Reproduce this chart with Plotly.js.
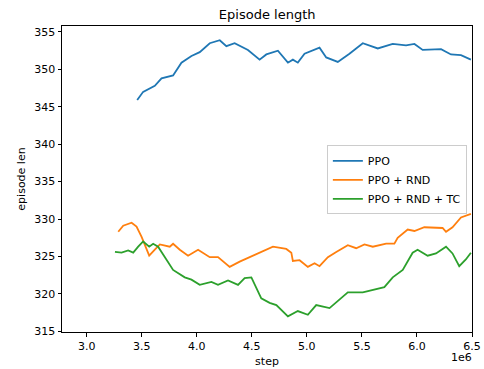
<!DOCTYPE html>
<html><head><meta charset="utf-8">
<script src="https://cdn.plot.ly/plotly-3.0.1.min.js"></script>
<style>html,body{margin:0;padding:0;background:#fff}</style>
</head><body>
<div id="chart" style="width:484px;height:369px"></div>
<script>
// step values in units of 1e6
const ppoStep = [3.459,3.513,3.619,3.680,3.785,3.861,3.952,4.027,4.118,4.209,4.269,4.344,4.465,4.571,4.632,4.737,4.828,4.873,4.918,4.979,5.115,5.176,5.281,5.387,5.508,5.644,5.780,5.901,5.977,6.052,6.219,6.309,6.400,6.490];
const ppoLen  = [345.9,347.0,347.8,348.8,349.2,350.9,351.8,352.3,353.5,353.9,353.1,353.5,352.6,351.3,352.0,352.5,350.9,351.3,350.9,352.1,352.9,351.6,351.0,352.1,353.5,352.8,353.4,353.2,353.4,352.6,352.7,352.0,351.9,351.3];

const rndStep = [3.287,3.332,3.408,3.453,3.499,3.568,3.619,3.665,3.755,3.785,3.846,3.921,4.012,4.118,4.193,4.299,4.390,4.481,4.571,4.692,4.813,4.859,4.873,4.934,5.009,5.070,5.115,5.191,5.267,5.372,5.448,5.523,5.599,5.720,5.795,5.825,5.916,5.977,6.067,6.158,6.233,6.264,6.323,6.400,6.490];
const rndLen  = [328.3,329.1,329.5,329.0,327.6,325.1,325.9,326.6,326.3,326.7,325.9,325.1,325.9,324.9,324.9,323.6,324.3,324.9,325.5,326.3,326.0,325.5,324.4,324.5,323.6,324.1,323.7,324.9,325.6,326.5,326.1,326.6,326.3,326.7,326.7,327.5,328.6,328.4,328.9,328.9,328.8,328.3,328.9,330.2,330.7];

const tcStep = [3.257,3.317,3.377,3.423,3.468,3.513,3.568,3.604,3.649,3.725,3.785,3.891,3.952,4.027,4.133,4.193,4.284,4.375,4.435,4.496,4.541,4.586,4.662,4.723,4.828,4.918,5.009,5.085,5.206,5.296,5.372,5.508,5.629,5.704,5.780,5.871,5.961,6.006,6.097,6.173,6.264,6.323,6.384,6.444,6.490];
const tcLen  = [325.6,325.5,325.8,325.5,326.3,327.0,326.3,326.7,326.3,324.6,323.2,322.2,321.9,321.2,321.6,321.2,321.8,321.2,322.1,322.2,320.9,319.4,318.8,318.5,317.0,317.7,317.2,318.5,318.1,319.2,320.2,320.2,320.6,320.9,322.2,323.2,325.5,325.9,325.1,325.4,326.3,325.4,323.7,324.6,325.5];

const seriesNames = ["PPO","PPO + RND","PPO + RND + TC"];
const colors = ["#1f77b4","#ff7f0e","#2ca02c"];

const traces = [
  {x: ppoStep, y: ppoLen, name: seriesNames[0]},
  {x: rndStep, y: rndLen, name: seriesNames[1]},
  {x: tcStep, y: tcLen, name: seriesNames[2]}
].map((t,i)=>Object.assign(t,{type:"scatter",mode:"lines",line:{color:colors[i],width:1.8}}));

const axisCommon = {
  showline:true, linecolor:"#000", linewidth:1, mirror:true,
  ticks:"outside", ticklen:3.5, tickwidth:1, tickcolor:"#000",
  showgrid:false, zeroline:false,
  tickfont:{family:"DejaVu Sans", size:11, color:"#000"}
};

const layout = {
  width:484, height:369,
  margin:{l:62, r:12, t:26, b:37},
  paper_bgcolor:"#fff", plot_bgcolor:"#fff",
  font:{family:"DejaVu Sans", color:"#000"},
  title:{text:"Episode length", font:{family:"DejaVu Sans", size:13, color:"#000"}, x:0.552, xanchor:"center", y:0.962, yanchor:"middle"},
  xaxis:Object.assign({}, axisCommon, {range:[2.776,6.5], dtick:0.5, tick0:3.0, tickformat:".1f",
    title:{text:"step", font:{family:"DejaVu Sans", size:11}, standoff:5}}),
  yaxis:Object.assign({}, axisCommon, {range:[314.9,355.8], dtick:5, tick0:315,
    title:{text:"episode len", font:{family:"DejaVu Sans", size:11}, standoff:6}}),
  legend:{x:0.646, y:0.61, xanchor:"left", yanchor:"top", bordercolor:"#cccccc", borderwidth:1,
    bgcolor:"rgba(255,255,255,0.8)", font:{family:"DejaVu Sans", size:11}, tracegroupgap:0, itemwidth:30},
  annotations:[{text:"1e6", xref:"paper", yref:"paper", x:1.005, y:-0.083, xanchor:"right", yanchor:"middle",
    showarrow:false, font:{family:"DejaVu Sans", size:11, color:"#000"}}]
};

Plotly.newPlot("chart", traces, layout, {displayModeBar:false, staticPlot:true});
</script>
</body></html>
